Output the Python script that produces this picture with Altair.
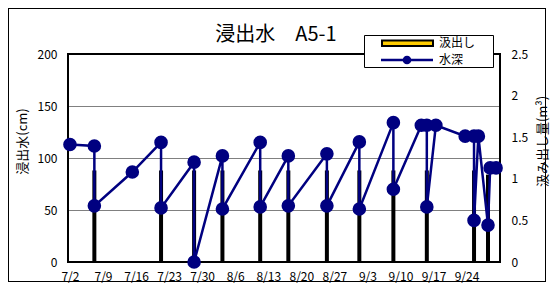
import altair as alt
import pandas as pd

# ---------------- data ----------------
depth_times = [
    "2010-07-02T00:00", "2010-07-07T04:00", "2010-07-07T04:00", "2010-07-15T05:00",
    "2010-07-21T07:00", "2010-07-21T07:00", "2010-07-28T07:00", "2010-07-28T07:00",
    "2010-08-03T07:00", "2010-08-03T07:00", "2010-08-11T07:00", "2010-08-11T07:00",
    "2010-08-17T06:00", "2010-08-17T06:00", "2010-08-25T10:00", "2010-08-25T10:00",
    "2010-09-01T07:00", "2010-09-01T07:00", "2010-09-08T12:00", "2010-09-08T12:00",
    "2010-09-14T10:00", "2010-09-15T14:00", "2010-09-15T14:00", "2010-09-17T12:00",
    "2010-09-23T17:00", "2010-09-25T14:00", "2010-09-25T14:00", "2010-09-26T12:00",
    "2010-09-28T13:00", "2010-09-29T00:00", "2010-09-30T06:00",
]
depth_cm = [
    113, 111.5, 54, 86.5,
    115, 52, 96, 0,
    102, 51, 115, 53,
    102, 54, 104, 54,
    115.5, 51, 134, 70,
    131.5, 131.5, 53, 131.5,
    121, 121, 40, 121,
    35.5, 90.5, 90.5,
]

pump_times = [
    "2010-07-07T04:00", "2010-07-21T07:00", "2010-07-28T07:00", "2010-08-03T07:00",
    "2010-08-11T07:00", "2010-08-17T06:00", "2010-08-25T10:00", "2010-09-01T07:00",
    "2010-09-08T12:00", "2010-09-15T14:00", "2010-09-25T14:00", "2010-09-28T13:00",
]
pump_m3 = [1.1, 1.1, 1.1, 1.1, 1.1, 1.1, 1.1, 1.1, 1.1, 1.1, 1.1, 1.05]

tick_dates = [(7, 2), (7, 9), (7, 16), (7, 23), (7, 30), (8, 6), (8, 13),
              (8, 20), (8, 27), (9, 3), (9, 10), (9, 17), (9, 24)]
left_ticks = [0, 50, 100, 150, 200]
right_ticks = [0, 0.5, 1, 1.5, 2, 2.5]
legend_labels = ["汲出し", "水深"]
title_text = "浸出水　A5-1"
left_title = "浸出水(cm)"
right_title = "汲み出し量(m³)"

FONT = "Noto Sans CJK JP"
NAVY = "#000080"

depth_df = pd.DataFrame({"t": depth_times, "v": depth_cm, "i": list(range(len(depth_cm)))})
pump_df = pd.DataFrame({"t": pump_times, "q": pump_m3})
one = pd.DataFrame({"k": [0]})

x_scale = alt.Scale(
    domain=[alt.DateTime(year=2010, month=7, date=1, hours=14),
            alt.DateTime(year=2010, month=10, date=1, hours=2)],
    nice=False, padding=0,
)
x_axis = alt.Axis(
    values=[alt.DateTime(year=2010, month=m, date=d) for m, d in tick_dates],
    format="%-m/%-d", title=None, grid=False, ticks=False, domain=False,
    labelFontSize=12, labelFont=FONT, labelColor="black", labelPadding=9,
    labelOverlap=False, labelFlush=False, labelBound=False,
)


def bar_edge(x1, x2, y1, y2):
    return alt.Chart(one).mark_rect(color="black", opacity=1).encode(
        x=alt.value(x1), x2=alt.value(x2), y=alt.value(y1), y2=alt.value(y2)
    )


# frame around the plot area
frame = alt.Chart(one).mark_rect(filled=False, stroke="black", strokeWidth=2).encode(
    x=alt.value(0), x2=alt.value(432), y=alt.value(0), y2=alt.value(208)
)
# outer chart border (four thin filled strips)
L, R, T, B = -60, 477, -46, 227
outer = [bar_edge(L, R + 1, T, T + 1), bar_edge(L, R + 1, B, B + 1),
         bar_edge(L, L + 1, T, B + 1), bar_edge(R, R + 1, T, B + 1)]

title = alt.Chart(one).mark_text(text=title_text, align="center", baseline="middle",
                                 font=FONT, fontSize=20, color="black").encode(
    x=alt.value(208), y=alt.value(-19)
)

bars = alt.Chart(pump_df).mark_bar(color="black", width=4).encode(
    x=alt.X("t:T", scale=x_scale, axis=x_axis),
    y=alt.Y("q:Q", scale=alt.Scale(domain=[0, 2.5], nice=False),
            axis=alt.Axis(orient="right", values=right_ticks, labelExpr="datum.value + ''",
                          grid=False, ticks=False, domain=False, labelFontSize=12,
                          labelFont=FONT, labelColor="black", labelPadding=11,
                          title=right_title, titleFont=FONT, titleFontSize=13,
                          titleFontWeight="normal", titleColor="black", titleAngle=270,
                          titleX=42, titleY=87, titleAlign="center", titleBaseline="middle")),
)

line = alt.Chart(depth_df).mark_line(color=NAVY, strokeWidth=2.5).encode(
    x=alt.X("t:T", scale=x_scale, axis=x_axis),
    y=alt.Y("v:Q", scale=alt.Scale(domain=[0, 200], nice=False),
            axis=alt.Axis(orient="left", values=left_ticks, grid=True, gridColor="#808080",
                          gridWidth=1, ticks=False, domain=False, labelFontSize=12,
                          labelFont=FONT, labelColor="black", labelPadding=11,
                          title=left_title, titleFont=FONT, titleFontSize=13,
                          titleFontWeight="normal", titleColor="black", titleAngle=270,
                          titleX=-46, titleY=87, titleAlign="center", titleBaseline="middle")),
    order="i:Q",
)
points = alt.Chart(depth_df).mark_point(filled=True, color=NAVY, size=185, opacity=1).encode(
    x=alt.X("t:T", scale=x_scale, axis=x_axis), y="v:Q"
)

# legend
leg_box = alt.Chart(one).mark_rect(fill="white", stroke="black", strokeWidth=1).encode(
    x=alt.value(296.5), x2=alt.value(425.5), y=alt.value(-18.5), y2=alt.value(13.5)
)
leg_sw = alt.Chart(one).mark_rect(fill="#FFCC00", stroke="black", strokeWidth=2).encode(
    x=alt.value(314), x2=alt.value(365), y=alt.value(-13.5), y2=alt.value(-8)
)
leg_line = alt.Chart(one).mark_rule(color=NAVY, strokeWidth=2.5).encode(
    x=alt.value(313), x2=alt.value(365), y=alt.value(6)
)
leg_pt = alt.Chart(one).mark_point(filled=True, color=NAVY, size=75, opacity=1).encode(
    x=alt.value(339), y=alt.value(6)
)
leg_t1 = alt.Chart(one).mark_text(text=legend_labels[0], align="left", baseline="middle",
                                  font=FONT, fontSize=12, color="black").encode(
    x=alt.value(371), y=alt.value(-11)
)
leg_t2 = alt.Chart(one).mark_text(text=legend_labels[1], align="left", baseline="middle",
                                  font=FONT, fontSize=12, color="black").encode(
    x=alt.value(371), y=alt.value(6)
)

layer_bars = alt.layer(frame, bars)
layer_line = alt.layer(line, points)
chart = alt.layer(
    title, layer_bars, layer_line, leg_box, leg_sw, leg_line, leg_pt, leg_t1, leg_t2, *outer
).resolve_scale(y="independent").properties(
    width=432, height=208,
    autosize=alt.AutoSizeParams(type="none"),
    padding={"left": 60, "top": 46, "right": 52, "bottom": 28},
).configure_view(strokeWidth=0).configure_axisX(labelOverlap=False)

chart.save("out.html", embed_options={"renderer": "svg", "actions": False})
